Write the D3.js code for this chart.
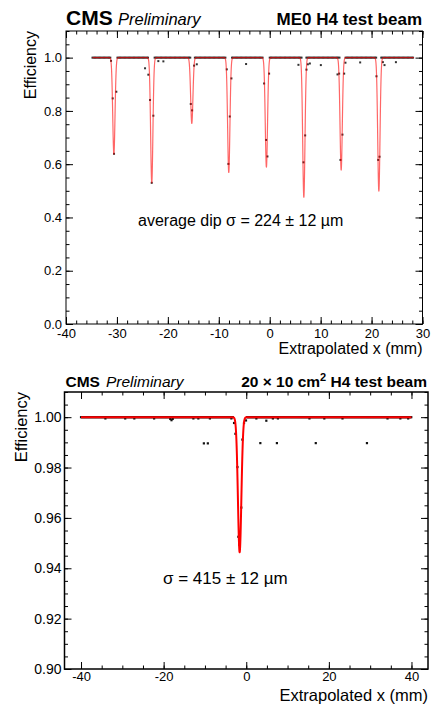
<!DOCTYPE html>
<html>
<head>
<meta charset="utf-8">
<script src="https://cdn.jsdelivr.net/npm/d3@7"></script>
<style>
body { margin: 0; background: #fff; }
svg { display: block; }
text { font-family: "Liberation Sans", Arial, Helvetica, sans-serif; fill: #000; }
</style>
</head>
<body>
<script>
// ---------- top panel : ME0 H4 test beam ----------
// plateau runs of bins sitting at efficiency 1.0 (mm)
var topPlateau = [[-34.8,-31.3],[-29.9,-23.9],[-22.6,-15.5],[-14.7,-8.7],[-7.4,-1.3],[0.0,6.4],[7.2,13.9],[14.9,21.0],[21.9,28.2]];
var topBin = 0.25;
// bins off the plateau [x, eff]
var topPoints = [
  [-31.16,0.988],[-30.83,0.847],[-30.57,0.639],[-30.12,0.872],
  [-24.48,0.960],[-23.83,0.936],[-23.5,0.841],[-23.17,0.530],[-22.85,0.782],[-21.87,0.987],[-20.88,0.986],
  [-15.5,0.826],[-15.24,0.802],[-14.85,0.970],[-14.32,0.975],
  [-8.43,0.956],[-8.11,0.601],[-7.84,0.779],[-7.52,0.922],[-4.64,0.976],
  [-1.10,0.903],[-0.71,0.691],[-0.45,0.629],[-0.12,0.940],
  [5.64,0.973],[6.63,0.607],[6.96,0.708],[7.22,0.955],[7.49,0.975],[7.88,0.978],[10.04,0.972],
  [13.31,0.937],[13.63,0.940],[13.89,0.616],[14.28,0.711],[14.62,0.940],[14.87,0.981],[17.76,0.982],
  [20.96,0.930],[21.30,0.616],[21.56,0.628],[22.22,0.983],[22.54,0.972],[24.78,0.983]
];
// fit: one gaussian dip per gap
var topDipMu  = [-30.6,-23.16,-15.3,-8.04,-0.65,6.70,14.03,21.43];
var topDipMin = [0.638,0.530,0.753,0.569,0.589,0.476,0.578,0.499];
var topSigma = 0.224;
var topFitRange = [-34.8,28.3];
var topXTicks = [-40,-30,-20,-10,0,10,20,30];
var topYTicks = [0,0.2,0.4,0.6,0.8,1.0];

// ---------- bottom panel : 20x10 cm2 ----------
var botPlateau = [[-40,-3.2],[0.2,40]];
var botBin = 0.25;
var botPoints = [
  [-34.1,0.9995],[-29.3,0.9995],[-27.1,0.9995],[-22.3,0.9995],[-18.4,0.9993],[-18.1,0.9988],[-17.8,0.9993],
  [-12.8,0.9995],[-11.6,0.9995],[-8.8,0.9995],[-3.6,0.9995],
  [2.45,0.9995],[4.86,0.9986],[6.45,0.9995],[7.66,0.9995],[15.3,0.9995],[18.9,0.9995],[23.3,0.9995],
  [34.2,0.9995],[37.3,0.9995],[39.2,0.9995],
  [-10.26,0.9896],[-9.30,0.9896],[3.41,0.9897],[7.42,0.9897],[16.83,0.9897],[29.22,0.9897],
  [-2.95,0.9977],[-2.62,0.9934],[-2.14,0.9802],[-1.9,0.9525],[-1.65,0.9493],[-1.2,0.9641],
  [-0.93,0.9911],[-0.54,0.9977],[-0.06,0.9987]
];
var botDipMu = [-1.6];
var botDipMin = [0.9464];
var botSigma = 0.415;
var botFitRange = [-40,40];
var botXTicks = [-40,-20,0,20,40];
var botYTicks = [0.90,0.92,0.94,0.96,0.98,1.00];

var W = 433, H = 706;
var svg = d3.select('body').append('svg').attr('width',W).attr('height',H);

function plateauBins(runs, step) {
  var out = [];
  runs.forEach(function(r){
    for (var x = r[0]; x <= r[1] + 1e-9; x += step) out.push([x, 1.0]);
  });
  return out;
}

function fitValue(x, mus, mins, s) {
  var v = 1;
  for (var i = 0; i < mus.length; i++) v -= (1 - mins[i]) * Math.exp(-(x-mus[i])*(x-mus[i])/(2*s*s));
  return v;
}

function panel(o) {
  var g = svg.append('g');
  var x = d3.scaleLinear().domain(o.xDomain).range([o.left, o.right]);
  var y = d3.scaleLinear().domain(o.yDomain).range([o.bottom, o.top]);

  function clean(sel){ sel.select('.domain').remove(); sel.selectAll('line').attr('stroke','#000'); }

  // minor ticks (all four sides)
  g.append('g').attr('transform','translate(0,'+o.bottom+')')
    .call(d3.axisBottom(x).tickValues(o.xMinor).tickSize(-o.minLen).tickFormat('')).call(clean);
  g.append('g').attr('transform','translate(0,'+o.top+')')
    .call(d3.axisTop(x).tickValues(o.xMinor).tickSize(-o.minLen).tickFormat('')).call(clean);
  g.append('g').attr('transform','translate('+o.left+',0)')
    .call(d3.axisLeft(y).tickValues(o.yMinor).tickSize(-o.minLen).tickFormat('')).call(clean);
  g.append('g').attr('transform','translate('+o.right+',0)')
    .call(d3.axisRight(y).tickValues(o.yMinor).tickSize(-o.minLen).tickFormat('')).call(clean);

  // major ticks (plain hyphen for negatives, as ROOT prints them)
  var xa = g.append('g').attr('transform','translate(0,'+o.bottom+')')
    .call(d3.axisBottom(x).tickValues(o.xTicks).tickSize(-o.majLen).tickPadding(o.xPad)
      .tickFormat(function(d){ return String(d); })).call(clean);
  xa.attr('font-family',null).attr('font-size',o.xTickFont);
  g.append('g').attr('transform','translate(0,'+o.top+')')
    .call(d3.axisTop(x).tickValues(o.xTicks).tickSize(-o.majLen).tickFormat('')).call(clean);
  var ya = g.append('g').attr('transform','translate('+o.left+',0)')
    .call(d3.axisLeft(y).tickValues(o.yTicks).tickSize(-o.majLen).tickPadding(o.yPad)
      .tickFormat(function(d){ return d.toFixed(o.yDec); })).call(clean);
  ya.attr('font-family',null).attr('font-size',o.yTickFont);
  g.append('g').attr('transform','translate('+o.right+',0)')
    .call(d3.axisRight(y).tickValues(o.yTicks).tickSize(-o.majLen).tickFormat('')).call(clean);

  // points
  var pts = plateauBins(o.plateau, o.bin).concat(o.points);
  g.append('g').selectAll('rect').data(pts).enter().append('rect')
    .attr('x', function(d){ return x(d[0]) - o.ms/2; })
    .attr('y', function(d){ return y(d[1]) - o.ms/2; })
    .attr('width', o.ms).attr('height', o.ms)
    .attr('fill', o.ptColor);

  // fit curve
  var xs = d3.range(o.fitRange[0], o.fitRange[1] + 0.001, 0.01);
  var line = d3.line()
    .x(function(d){ return x(d); })
    .y(function(d){ return y(fitValue(d, o.mu, o.min, o.sigma)); });
  g.append('path').datum(xs)
    .attr('fill','none').attr('stroke',o.fitColor).attr('stroke-width',o.fitW)
    .attr('stroke-opacity',o.fitOpacity).attr('stroke-linejoin','round')
    .attr('d', line);

  // frame
  g.append('rect').attr('x',o.left).attr('y',o.top)
    .attr('width',o.right-o.left).attr('height',o.bottom-o.top)
    .attr('fill','none').attr('stroke','#000').attr('stroke-width',o.frameW);

  // axis titles
  g.append('text').attr('x',o.right).attr('y',o.xTitleY).attr('text-anchor','end')
    .attr('font-size',o.titleFont).text('Extrapolated x (mm)');
  g.append('text').attr('transform','translate('+o.yTitleX+','+o.top+') rotate(-90)')
    .attr('text-anchor','end').attr('font-size',o.titleFont).text('Efficiency');
  return g;
}

panel({
  left:66, right:422.5, top:31, bottom:324,
  xDomain:[-40,30], yDomain:[0,1.1],
  xTicks:topXTicks, yTicks:topYTicks, yDec:1,
  xMinor:d3.range(-40,30.01,2), yMinor:d3.range(0,1.101,0.05),
  majLen:7, minLen:3.5, xPad:5, yPad:4, xTickFont:13, yTickFont:13, titleFont:16,
  plateau:topPlateau, bin:topBin, points:topPoints, ms:2, ptColor:'#333',
  mu:topDipMu, min:topDipMin, sigma:topSigma, fitRange:topFitRange,
  fitColor:'#ff0000', fitW:1.2, fitOpacity:0.6, frameW:1,
  xTitleY:354, yTitleX:36
});

panel({
  left:64.5, right:428, top:392, bottom:669,
  xDomain:[-44,44], yDomain:[0.9,1.01],
  xTicks:botXTicks, yTicks:botYTicks, yDec:2,
  xMinor:d3.range(-40,40.01,5), yMinor:d3.range(0.9,1.0101,0.005),
  majLen:7, minLen:3.5, xPad:3, yPad:3, xTickFont:13, yTickFont:14, titleFont:16.5,
  plateau:botPlateau, bin:botBin, points:botPoints, ms:2.2, ptColor:'#111',
  mu:botDipMu, min:botDipMin, sigma:botSigma, fitRange:botFitRange,
  fitColor:'#ff0000', fitW:2, fitOpacity:1, frameW:1.5,
  xTitleY:701, yTitleX:27
});

// headers and annotations
svg.append('text').attr('x',66).attr('y',25).attr('font-size',21).attr('font-weight','bold').text('CMS');
svg.append('text').attr('x',118).attr('y',25).attr('font-size',16.5).attr('font-style','italic').text('Preliminary');
svg.append('text').attr('x',422).attr('y',25).attr('text-anchor','end').attr('font-size',17).attr('font-weight','bold').text('ME0 H4 test beam');
svg.append('text').attr('x',138).attr('y',226).attr('font-size',16).text('average dip σ = 224 ± 12 µm');

svg.append('text').attr('x',65.5).attr('y',387).attr('font-size',15.5).attr('font-weight','bold').text('CMS');
svg.append('text').attr('x',106).attr('y',387).attr('font-size',15.5).attr('font-style','italic').text('Preliminary');
var sub = svg.append('text').attr('x',427).attr('y',387).attr('text-anchor','end').attr('font-size',15.5).attr('font-weight','bold');
sub.append('tspan').text('20 × 10 cm');
sub.append('tspan').attr('dy',-6).attr('font-size',11).text('2');
sub.append('tspan').attr('dy',6).text(' H4 test beam');
svg.append('text').attr('x',163).attr('y',584).attr('font-size',17).text('σ = 415 ± 12 µm');
</script>
</body>
</html>
